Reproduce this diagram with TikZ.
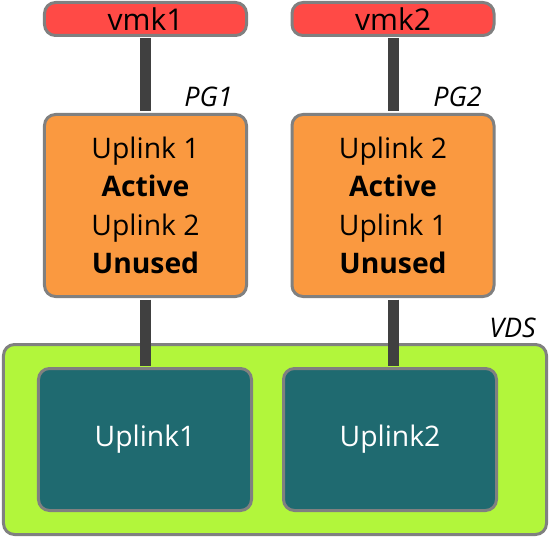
\documentclass[tikz,border=0pt]{standalone}
\usepackage{fontspec}
\setmainfont{Open Sans}
\definecolor{vmkred}{RGB}{255,74,70}
\definecolor{pgorange}{RGB}{250,153,64}
\definecolor{vdsgreen}{RGB}{178,246,59}
\definecolor{upteal}{RGB}{31,106,112}
\definecolor{bordergray}{RGB}{128,128,128}
\definecolor{linegray}{RGB}{64,64,64}
\begin{document}
\begin{tikzpicture}[x=1bp,y=-1bp,
  every node/.style={font=\fontsize{28.3bp}{38.3bp}\selectfont},
  box/.style={draw=bordergray, line width=3bp, rounded corners=11bp, inner sep=0pt, align=center},
  vmkbox/.style={box, fill=vmkred, minimum width=202bp, minimum height=33bp, font=\fontsize{30bp}{36bp}\selectfont},
  pgbox/.style={box, fill=pgorange, minimum width=202bp, minimum height=182bp},
  vdsbox/.style={box, fill=vdsgreen, minimum width=543bp, minimum height=190bp},
  upbox/.style={box, fill=upteal, text=white, minimum width=213bp, minimum height=142bp},
  link/.style={draw=linegray, line width=11bp, shorten <=1.5bp, shorten >=1.5bp},
  tag/.style={font=\fontsize{27bp}{36bp}\selectfont\itshape, inner sep=0pt, anchor=base east}
]
\useasboundingbox (0,0) rectangle (549,537);
\node[vdsbox] (vds) at (275,439.5) {};
\node[vmkbox] (vmk1) at (145.5,19) {vmk1};
\node[vmkbox] (vmk2) at (393,19) {vmk2};
\node[pgbox] (pg1) at (145.5,205.5) {Uplink 1\\\textbf{Active}\\Uplink 2\\\textbf{Unused}};
\node[pgbox] (pg2) at (393,205.5) {Uplink 2\\\textbf{Active}\\Uplink 1\\\textbf{Unused}};
\node[upbox] (up1) at (145,439.5) {Uplink1};
\node[upbox] (up2) at (390,439.5) {Uplink2};
\node[tag] (pg1lbl) at (233,107) {PG1};
\node[tag] (pg2lbl) at (482,107) {PG2};
\node[tag] (vdslbl) at (536,337) {VDS};
\draw[link] (vmk1.south) -- (pg1.north);
\draw[link] (vmk2.south) -- (pg2.north);
\draw[link] (pg1.south) -- (pg1.south |- up1.north);
\draw[link] (pg2.south) -- (pg2.south |- up2.north);
\end{tikzpicture}
\end{document}
